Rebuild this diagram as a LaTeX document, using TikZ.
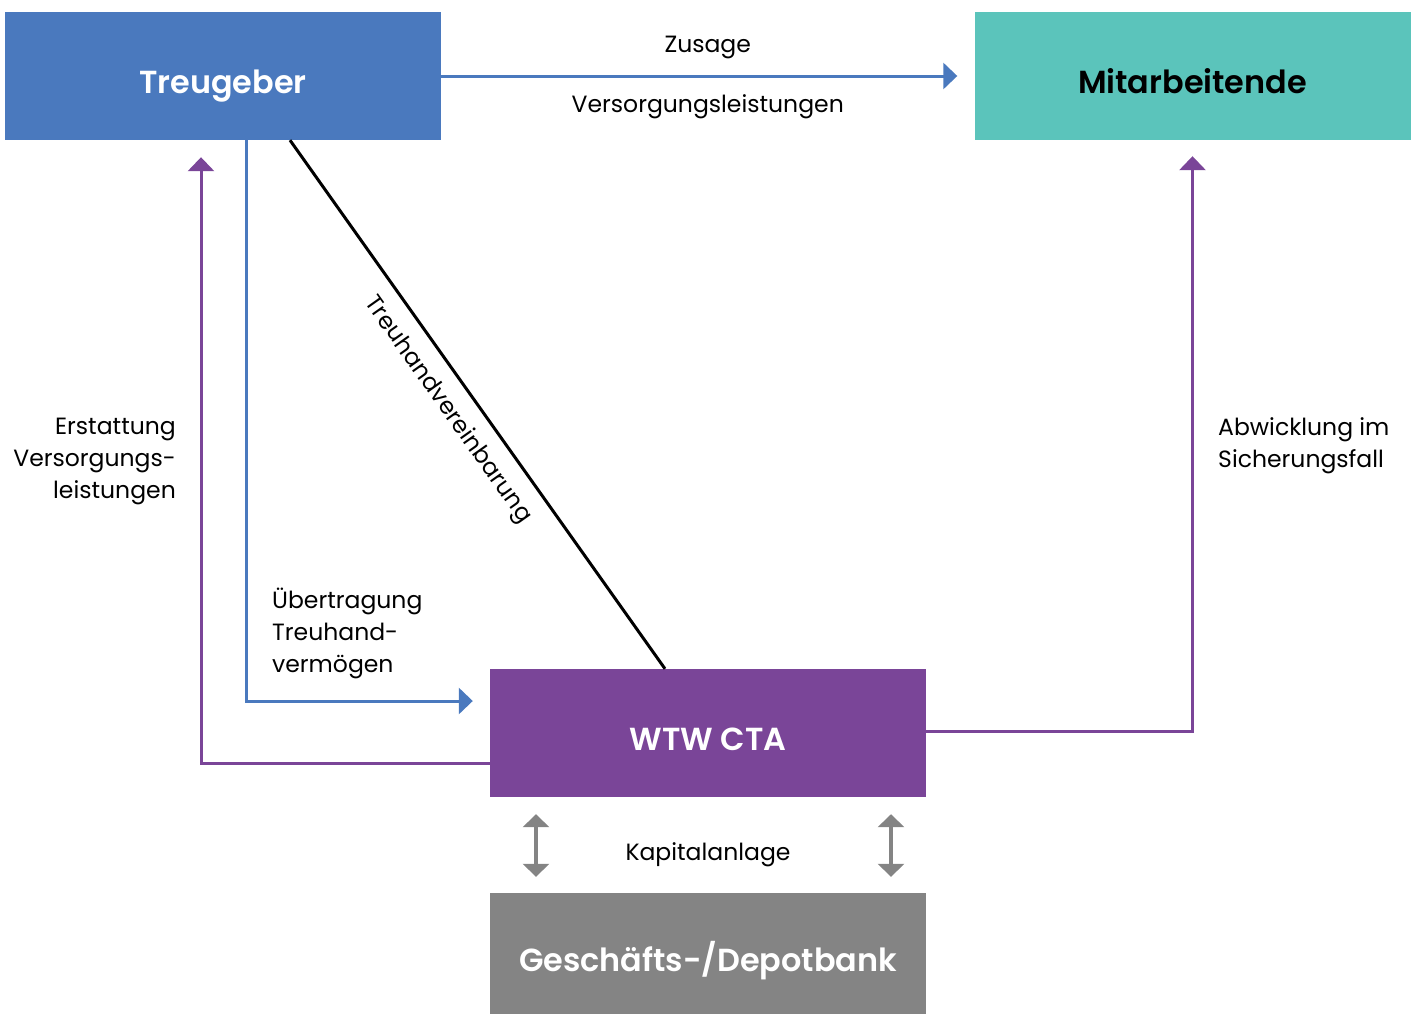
\documentclass[tikz,border=0pt]{standalone}
\usepackage{fontspec}
\setmainfont{Poppins}[BoldFont={Poppins SemiBold}]
\usetikzlibrary{arrows.meta,positioning}

\definecolor{tgblue}{RGB}{74,121,190}
\definecolor{mateal}{RGB}{91,196,187}
\definecolor{ctapurple}{RGB}{122,69,152}
\definecolor{bankgray}{RGB}{132,132,132}

\tikzstyle{box} = [rectangle, minimum width=436bp, minimum height=128bp, inner sep=0pt, text height=35bp, text depth=0pt, text=white, font=\fontsize{32}{38}\selectfont\bfseries]
\tikzstyle{lbl} = [inner sep=0pt, text=black, font=\fontsize{23.6}{31.7}\selectfont]
\tikzstyle{conn} = [line width=3bp, -{Triangle[width=26bp,length=14bp]}]
\tikzstyle{twoway} = [line width=4bp, draw=bankgray, {Triangle[width=26bp,length=13bp]}-{Triangle[width=26bp,length=13bp]}, shorten <=17bp, shorten >=16bp]

\begin{document}
\begin{tikzpicture}[x=1bp,y=-1bp]
\useasboundingbox (0,0) rectangle (1416,1014);
\node [box,fill=tgblue] (treugeber) at (223,76) {Treugeber};
\node [box,fill=mateal,text=black] (mitarbeitende) at (1192.5,76) {Mitarbeitende};
\node [box,fill=ctapurple] (cta) at (708,733) {WTW CTA};
\node [box,fill=bankgray,minimum height=121bp] (bank) at (708,953.5) {Geschäfts-/Depotbank};

\draw [conn,draw=tgblue,shorten >=17bp] (treugeber.east) -- (mitarbeitende.west)
	node [lbl,pos=0.5,anchor=base,yshift=23.5bp] (zusage) {Zusage}
	node [lbl,pos=0.5,anchor=base,yshift=-36bp] (leistungen) {Versorgungsleistungen};
\draw [conn,draw=tgblue,shorten >=17bp] ([xshift=23bp]treugeber.south) |- ([yshift=32bp]cta.west);
\draw [conn,draw=ctapurple,shorten >=17bp] ([yshift=-30bp]cta.west) -| ([xshift=-22bp]treugeber.south);
\draw [conn,draw=ctapurple,shorten >=16bp] ([yshift=2bp]cta.east) -| (mitarbeitende.south);
\draw [line width=3bp] ([xshift=67bp]treugeber.south) -- ([xshift=-43bp]cta.north)
	node [lbl,pos=0.48,sloped,below=14bp] (treuhand) {Treuhandvereinbarung};

\draw [twoway] ([xshift=-172bp]cta.south) -- ([xshift=-172bp]bank.north);
\draw [twoway] ([xshift=183bp]cta.south) -- ([xshift=183bp]bank.north);
\node [lbl,anchor=base] (kapital) at (708,860.5) {Kapitalanlage};

\node [lbl,align=right,anchor=base east] (erstattung) at (176,498) {Erstattung\\Versorgungs-\\leistungen};
\node [lbl,align=left,anchor=base west] (abwicklung) at (1218,467.5) {Abwicklung im\\Sicherungsfall};
\node [lbl,align=left,anchor=base west] (uebertragung) at (272,672) {Übertragung\\Treuhand-\\vermögen};
\end{tikzpicture}
\end{document}
